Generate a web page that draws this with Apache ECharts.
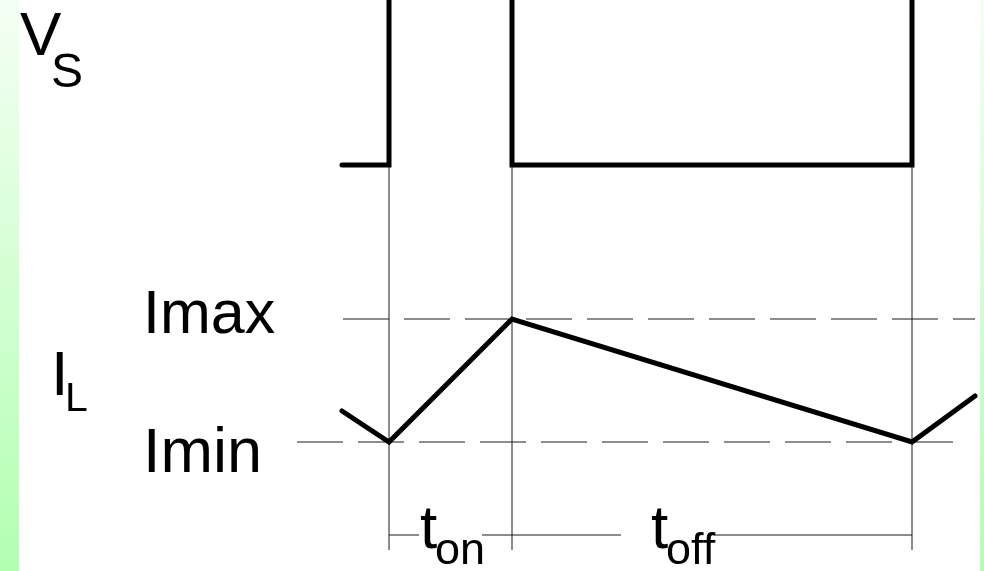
<!DOCTYPE html>
<html>
<head>
<meta charset="utf-8">
<script src="https://cdn.jsdelivr.net/npm/echarts@6/dist/echarts.min.js"></script>
<style>
    html, body { margin: 0; padding: 0; background: #fff; }
    #main { width: 984px; height: 571px; }
</style>
</head>
<body>
<div id="main"></div>
<script>
// switching waveform (axis units = drawing units, y grows downward)
var vsPoints = [[342, 165], [389, 165], [389, -20], [512, -20], [512, 165], [912, 165], [912, -20]];
var ilPoints = [[342, 411], [389, 442], [512, 319], [912, 442], [975, 396]];
var iMax = 319;
var iMin = 442;
var iMaxSpan = [343, 975];
var iMinSpan = [297, 958];
var switchTimes = [389, 512, 912];
var guideSpan = [165, 550];
var dimLevel = 535;
var dimSegments = [[389, 419], [482, 621], [713, 912]];

var FONT = '"Liberation Sans", Arial, sans-serif';

function txt(str, x, baseline, size)
{
    // place by baseline (middle of em box sits ~0.31em above baseline)
    return {
        type: 'text',
        z: 10,
        style: {
            text: str,
            x: x,
            y: baseline - size * 0.31,
            fill: '#000',
            font: 'normal ' + size + 'px ' + FONT,
            textVerticalAlign: 'middle'
        }
    };
}

function thin(points, dashed)
{
    return {
        type: 'line',
        data: points,
        symbol: 'none',
        silent: true,
        lineStyle: { color: '#1a1a1a', width: 1, type: dashed ? [46, 15] : 'solid' }
    };
}

var series = [];
series.push(thin([[iMaxSpan[0], iMax], [iMaxSpan[1], iMax]], true));
series.push(thin([[iMinSpan[0], iMin], [iMinSpan[1], iMin]], true));
switchTimes.forEach(function(t) {
    series.push(thin([[t, guideSpan[0]], [t, guideSpan[1]]], false));
});
dimSegments.forEach(function(s) {
    series.push(thin([[s[0], dimLevel], [s[1], dimLevel]], false));
});
series.push({
    name: 'Vs',
    type: 'line',
    data: vsPoints,
    symbol: 'none',
    z: 5,
    lineStyle: { color: '#000', width: 5, cap: 'round', join: 'miter' }
});
series.push({
    name: 'IL',
    type: 'line',
    data: ilPoints,
    symbol: 'none',
    z: 5,
    lineStyle: { color: '#000', width: 5, cap: 'round', join: 'miter' }
});

var green = {
    type: 'linear', x: 0, y: 0, x2: 0, y2: 1,
    colorStops: [{ offset: 0, color: '#f4fff4' }, { offset: 1, color: '#b2ffb2' }]
};

var option = {
    backgroundColor: '#fff',
    animation: false,
    grid: { left: 0, right: 0, top: 0, bottom: 0 },
    xAxis: { type: 'value', min: 0, max: 984, show: false },
    yAxis: { type: 'value', min: 0, max: 571, inverse: true, show: false },
    graphic: [
        { type: 'rect', z: 0, shape: { x: 0, y: 0, width: 19, height: 571 }, style: { fill: green } },
        { type: 'rect', z: 0, shape: { x: 980, y: 0, width: 4, height: 571 }, style: { fill: green } },
        txt('V', 20, 57, 62),
        txt('S', 51, 89, 48),
        txt('I', 51, 397, 63),
        txt('L', 65, 412, 41),
        txt('Imax', 143, 335, 61),
        txt('Imin', 143, 474, 63),
        txt('t', 420, 550, 62),
        txt('on', 435, 566, 45),
        txt('t', 651, 550, 62),
        txt('off', 666, 566, 45)
    ],
    series: series
};

var myChart = echarts.init(document.getElementById('main'));
myChart.setOption(option);
</script>
</body>
</html>
